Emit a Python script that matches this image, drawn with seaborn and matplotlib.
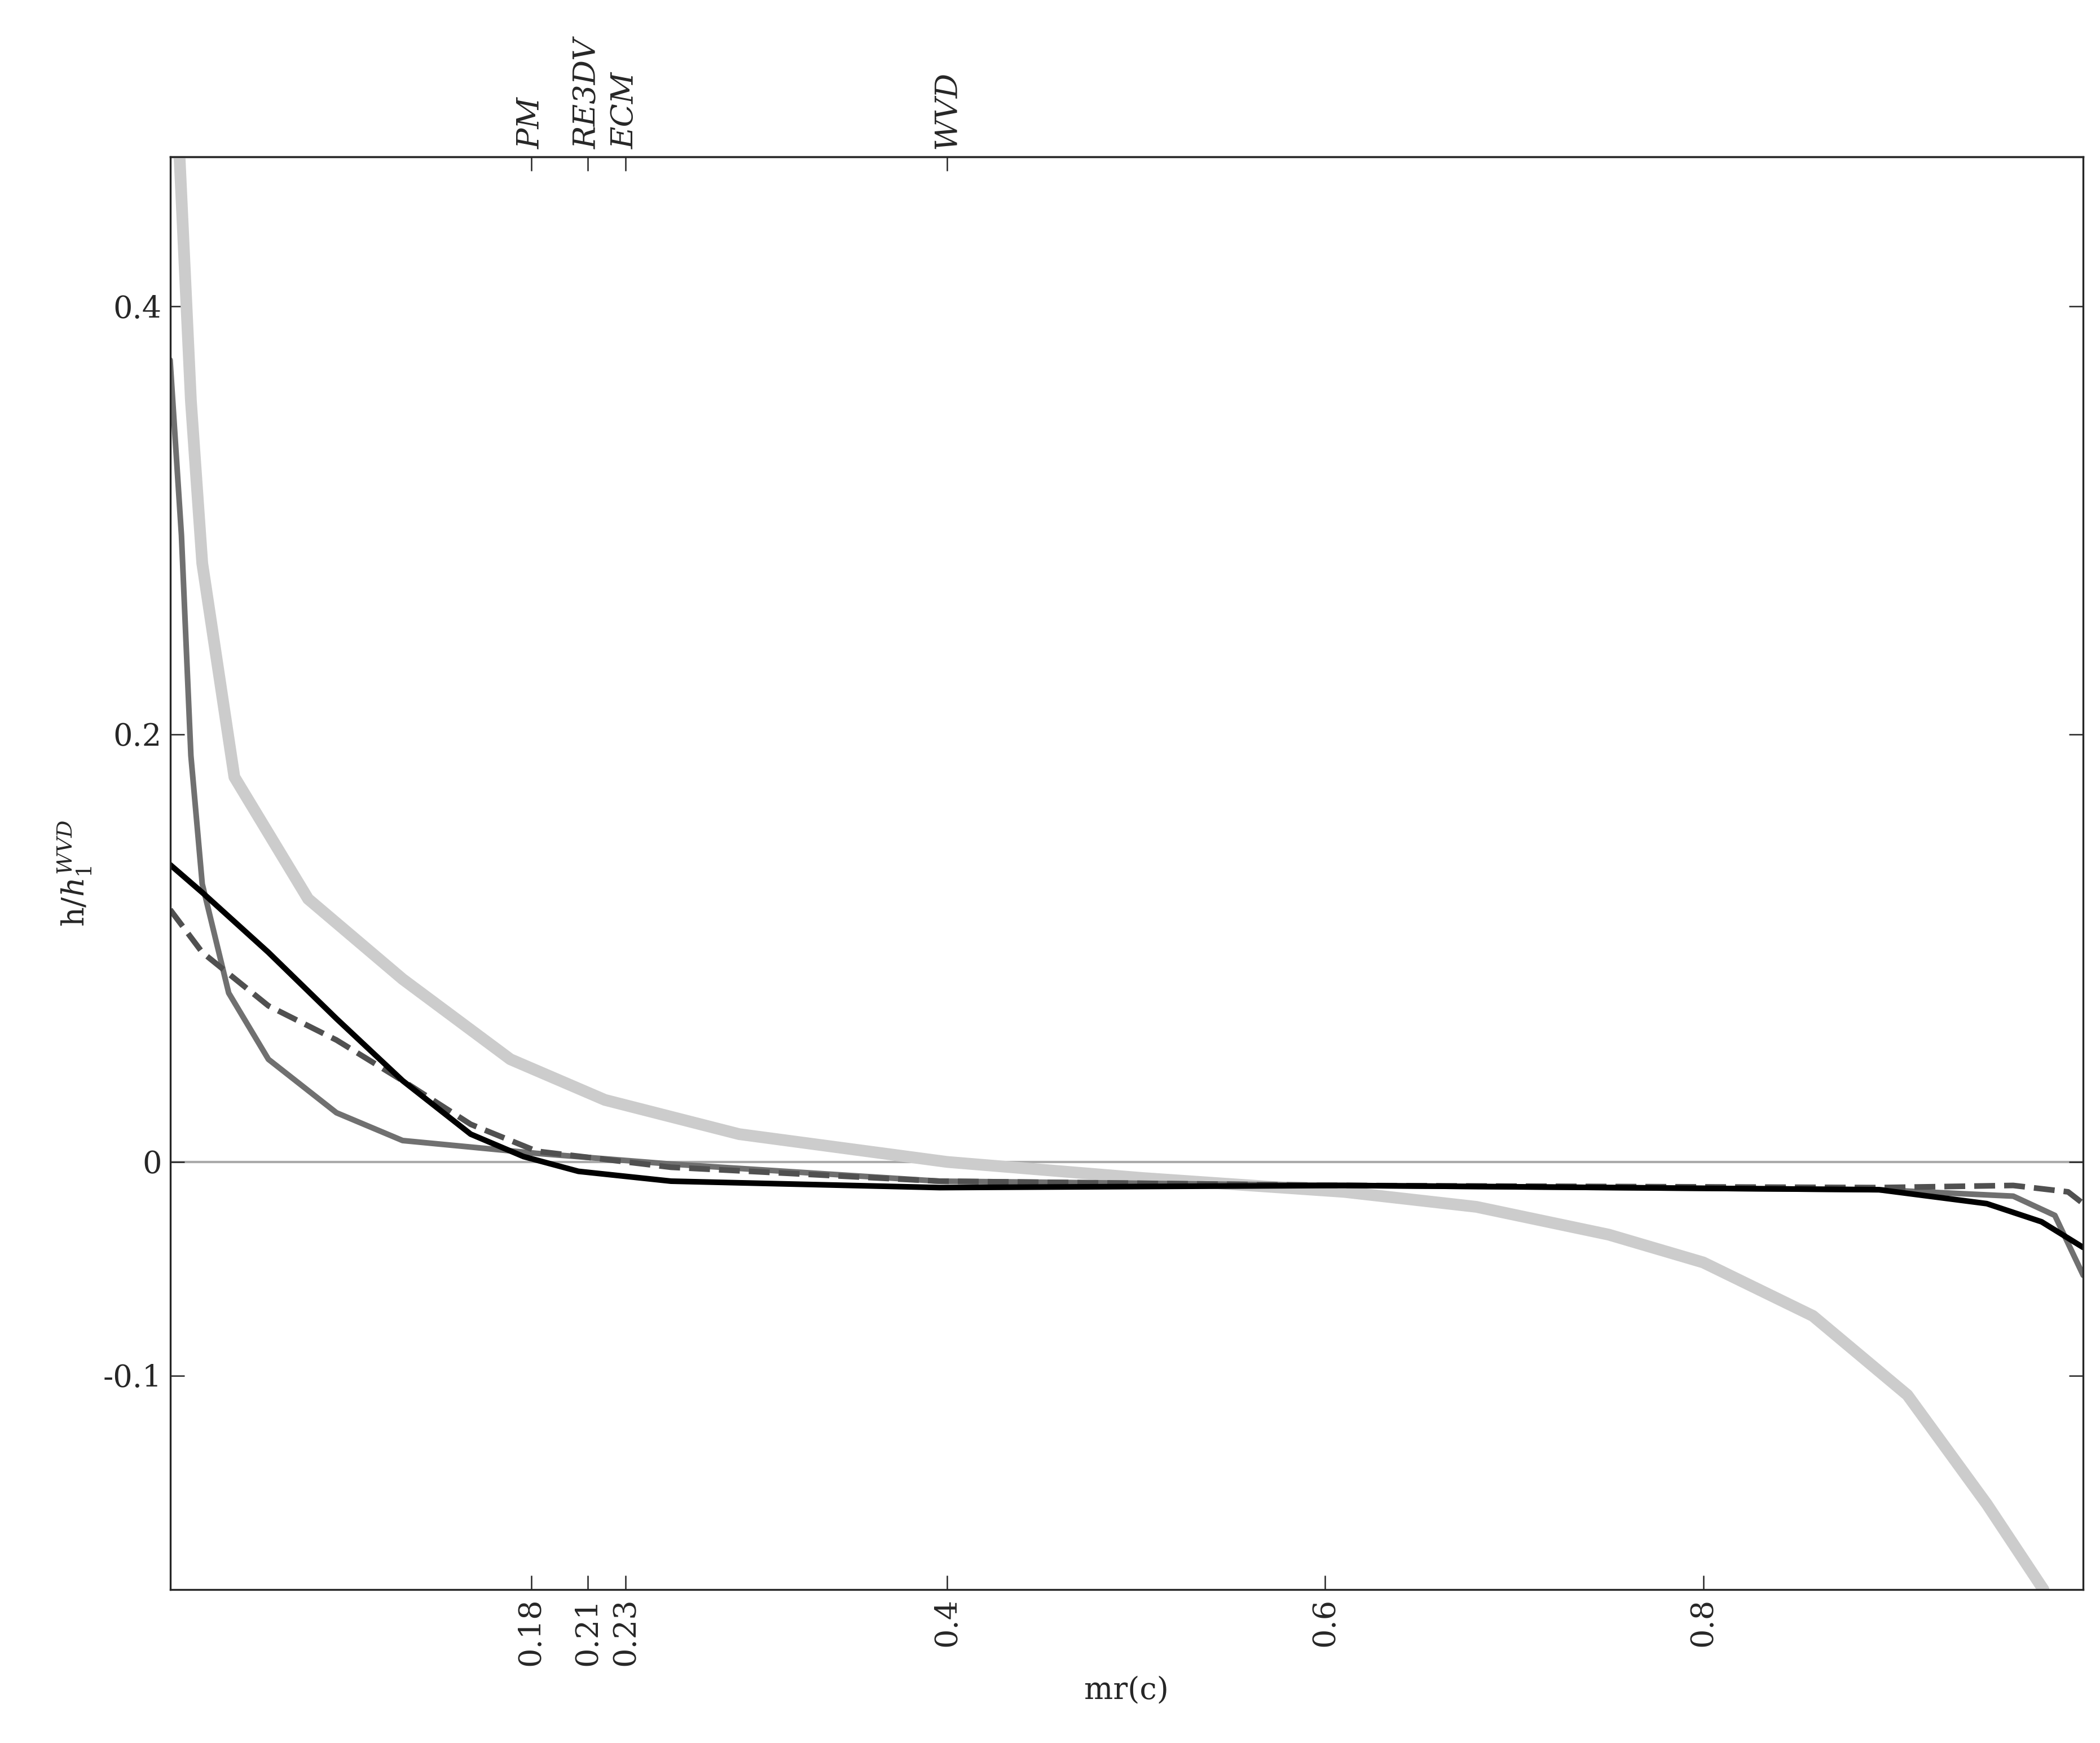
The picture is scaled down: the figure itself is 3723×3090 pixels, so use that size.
import numpy as np
import matplotlib.pyplot as plt
import seaborn as sns

# curves
light_x = [-0.006, 0.0, 0.006, 0.023, 0.062, 0.112, 0.169, 0.219, 0.29, 0.4, 0.503, 0.61, 0.68, 0.75, 0.8, 0.858, 0.908, 0.95, 0.98]
light_y = [0.47, 0.356, 0.28, 0.18, 0.123, 0.0855, 0.048, 0.029, 0.013, 0.0, -0.0075, -0.014, -0.021, -0.034, -0.047, -0.072, -0.109, -0.16, -0.2]

mid_x = [-0.011, -0.005, 0.0, 0.006, 0.02, 0.041, 0.077, 0.112, 0.183, 0.254, 0.396, 0.61, 0.893, 0.964, 0.986, 1.001]
mid_y = [0.375, 0.293, 0.19, 0.13, 0.079, 0.048, 0.023, 0.01, 0.004, -0.001, -0.009, -0.011, -0.013, -0.016, -0.025, -0.053]

black_x = [-0.011, 0.006, 0.041, 0.077, 0.112, 0.148, 0.176, 0.205, 0.254, 0.396, 0.61, 0.893, 0.95, 0.979, 1.001]
black_y = [0.139, 0.126, 0.098, 0.067, 0.038, 0.013, 0.0025, -0.0044, -0.009, -0.012, -0.011, -0.013, -0.0195, -0.028, -0.04]

dash_x = [-0.011, 0.006, 0.041, 0.077, 0.112, 0.148, 0.183, 0.254, 0.396, 0.61, 0.893, 0.964, 0.993, 1.001]
dash_y = [0.118, 0.098, 0.073, 0.057, 0.038, 0.0176, 0.005, -0.0025, -0.009, -0.011, -0.012, -0.011, -0.014, -0.0195]

top_ticks = [0.18, 0.21, 0.23, 0.4]
top_labels = ["PM", "RE3DV", "ECM", "WVD"]
bottom_ticks = [0.18, 0.21, 0.23, 0.4, 0.6, 0.8]
bottom_labels = ["0.18", "0.21", "0.23", "0.4", "0.6", "0.8"]
y_ticks = [-0.1, 0, 0.2, 0.4]
y_labels = ["-0.1", "0", "0.2", "0.4"]

sns.set_style("ticks")
plt.rcParams['font.family'] = ['DejaVu Serif']
plt.rcParams['mathtext.fontset'] = 'dejavuserif'

fig = plt.figure(figsize=(12.41, 10.3), dpi=300)
ax = fig.add_axes([0.081, 0.088, 0.911, 0.822])

ax.axhline(0, color='#aaaaaa', lw=1, zorder=0)
sns.lineplot(x=light_x, y=light_y, ax=ax, color='#cccccc', lw=5, sort=False)
sns.lineplot(x=mid_x, y=mid_y, ax=ax, color='#707070', lw=2.4, sort=False)
sns.lineplot(x=dash_x, y=dash_y, ax=ax, color='#505050', lw=2.4, linestyle='--', sort=False)
sns.lineplot(x=black_x, y=black_y, ax=ax, color='black', lw=2.4, sort=False)

ax.set_xlim(-0.011, 1.001)
ax.set_ylim(-0.2, 0.47)
ax.set_xticks(bottom_ticks)
ax.set_xticklabels(bottom_labels, rotation=90, fontsize=13)
ax.set_yticks(y_ticks)
ax.set_yticklabels(y_labels, fontsize=13)
ax.tick_params(direction='in', top=False, right=True, length=6, width=0.6)

top = ax.secondary_xaxis('top')
top.set_xticks(top_ticks)
top.set_xticklabels(top_labels, rotation=90, fontsize=13, style='italic')
top.tick_params(direction='in', length=6, width=0.6)

ax.set_xlabel("mr(c)", fontsize=13)
ax.set_ylabel(r"h/$h_1^{WVD}$", fontsize=13)
for s in ax.spines.values():
    s.set_linewidth(0.8)

fig.savefig("out.png", dpi=300)
